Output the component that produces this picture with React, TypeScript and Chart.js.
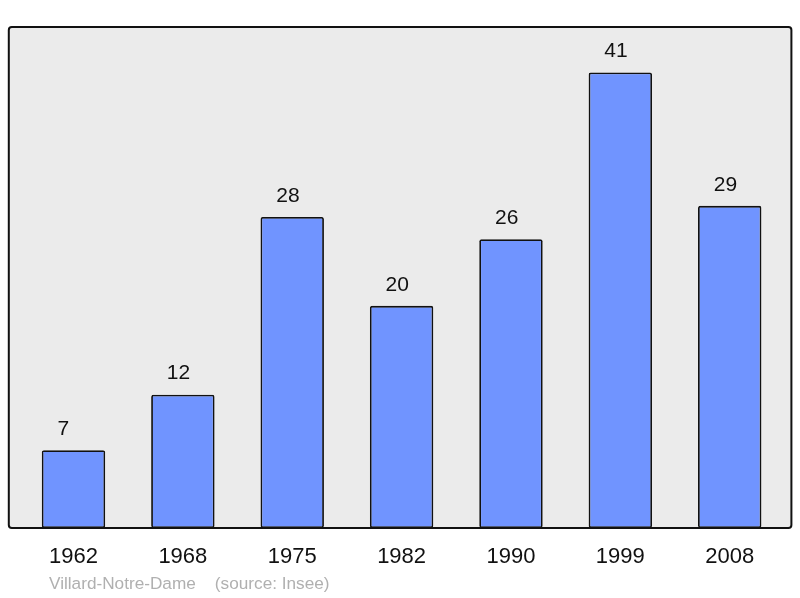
import React, { useEffect, useRef } from "react";
import { Chart, registerables } from "chart.js";

Chart.register(...registerables);

const categories = ["1962", "1968", "1975", "1982", "1990", "1999", "2008"];
const population = [7, 12, 28, 20, 26, 41, 29];
const footerText = "Villard-Notre-Dame    (source: Insee)";

const framePlugin = {
  id: "frame",
  beforeDatasetsDraw(chart: any) {
    const { ctx, chartArea } = chart;
    const l = chartArea.left - 10;
    const r = chartArea.right + 7;
    const t = chartArea.top;
    const b = chartArea.bottom;
    ctx.save();
    ctx.beginPath();
    ctx.roundRect(l, t, r - l, b - t, 3);
    ctx.fillStyle = "#ebebeb";
    ctx.fill();
    ctx.lineWidth = 2;
    ctx.strokeStyle = "#111";
    ctx.stroke();
    ctx.restore();
  },
  afterDatasetsDraw(chart: any) {
    const { ctx } = chart;
    const meta = chart.getDatasetMeta(0);
    ctx.save();
    ctx.fillStyle = "#111";
    ctx.font = '21px "Liberation Sans", Arial, sans-serif';
    ctx.textAlign = "left";
    ctx.textBaseline = "middle";
    meta.data.forEach((bar: any, i: number) => {
      ctx.fillText(String(population[i]), bar.x - 16, bar.y - 21);
    });
    ctx.fillStyle = "#b0b0b0";
    ctx.font = '17.2px "Liberation Sans", Arial, sans-serif';
    ctx.textAlign = "left";
    ctx.fillText(footerText, 49, 584);
    ctx.restore();
  },
};

export default function App() {
  const ref = useRef<HTMLCanvasElement>(null);
  useEffect(() => {
    document.body.style.margin = "0";
    const chart = new Chart(ref.current!, {
      type: "bar",
      data: {
        labels: categories,
        datasets: [
          {
            data: population,
            backgroundColor: "#7094ff",
            borderColor: "#111",
            borderWidth: 1.8,
            borderRadius: 2,
            borderSkipped: false,
            categoryPercentage: 1,
            barPercentage: 0.58,
          },
        ],
      },
      options: {
        responsive: false,
        animation: false,
        layout: { padding: { left: 18.8, right: 15.6, top: 27, bottom: 11.6 } },
        plugins: { legend: { display: false }, tooltip: { enabled: false } },
        scales: {
          x: {
            offset: true,
            grid: { display: false, drawTicks: false },
            border: { display: false },
            ticks: {
              padding: 16,
              color: "#111",
              font: { family: '"Liberation Sans", Arial, sans-serif', size: 22 },
            },
          },
          y: { display: false, min: 0, max: 45.1 },
        },
      },
      plugins: [framePlugin],
    });
    return () => chart.destroy();
  }, []);
  return (
    <div style={{ position: "absolute", left: 0, top: 0, width: 800, height: 598 }}>
      <canvas ref={ref} width={800} height={598} />
    </div>
  );
}
